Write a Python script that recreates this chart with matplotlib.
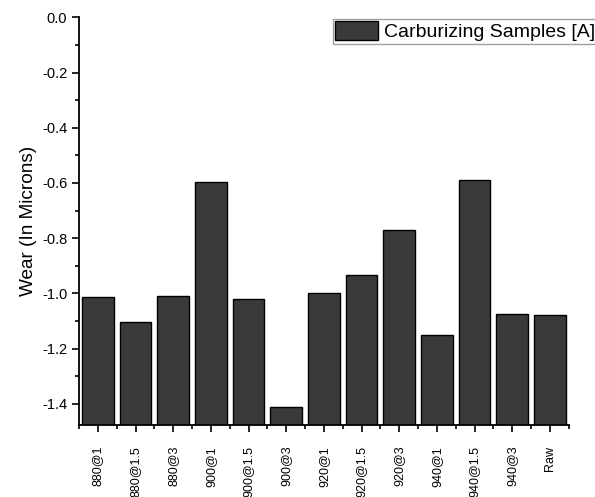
import numpy as np
import matplotlib.pyplot as plt
from matplotlib.ticker import MultipleLocator

plt.rcParams['font.family'] = ['Liberation Sans', 'DejaVu Sans']

samples = ['880@1', '880@1.5', '880@3', '900@1', '900@1.5', '900@3',
           '920@1', '920@1.5', '920@3', '940@1', '940@1.5', '940@3', 'Raw']
wear = [-1.013, -1.105, -1.008, -0.595, -1.022, -1.412,
        -0.999, -0.933, -0.769, -1.152, -0.590, -1.075, -1.079]

y_min = -1.477

fig = plt.figure(figsize=(5.95, 4.97), dpi=100)
ax = fig.add_axes([0.133, 0.145, 0.823, 0.82])

x = np.arange(len(samples))
heights = np.array(wear) - y_min
ax.bar(x, heights, bottom=y_min, width=0.84, color='#3a3a3a',
       edgecolor='black', linewidth=1.0, label='Carburizing Samples [A]')

ax.set_xlim(-0.5, len(samples) - 0.5)
ax.set_ylim(y_min, 0.0)

ax.set_xticks(x)
ax.set_xticklabels(samples, rotation=90, fontsize=9)
ax.xaxis.set_minor_locator(MultipleLocator(1, offset=0.5))
ax.yaxis.set_major_locator(MultipleLocator(0.2))
ax.yaxis.set_minor_locator(MultipleLocator(0.1))
ax.yaxis.set_major_formatter(plt.FuncFormatter(lambda v, p: f'{v:.1f}'))

ax.tick_params(axis='both', which='major', direction='out', length=5, width=1.2)
ax.tick_params(axis='both', which='minor', direction='out', length=3, width=1.2)
ax.tick_params(axis='y', labelsize=10.5)
ax.tick_params(axis='x', pad=10)

for side in ['top', 'right']:
    ax.spines[side].set_visible(False)
for side in ['left', 'bottom']:
    ax.spines[side].set_linewidth(1.3)

ax.set_ylabel('Wear (In Microns)', fontsize=13.7, labelpad=4)

leg = ax.legend(loc='upper left', bbox_to_anchor=(333 / 595, 1 - 19 / 497),
                bbox_transform=fig.transFigure, fontsize=14,
                frameon=True, fancybox=False, borderpad=0.12,
                handlelength=2.2, handleheight=1.1, handletextpad=0.3,
                borderaxespad=0)
leg.get_frame().set_edgecolor('#888888')
leg.get_frame().set_linewidth(1.0)

fig.savefig('out.png', dpi=100)
